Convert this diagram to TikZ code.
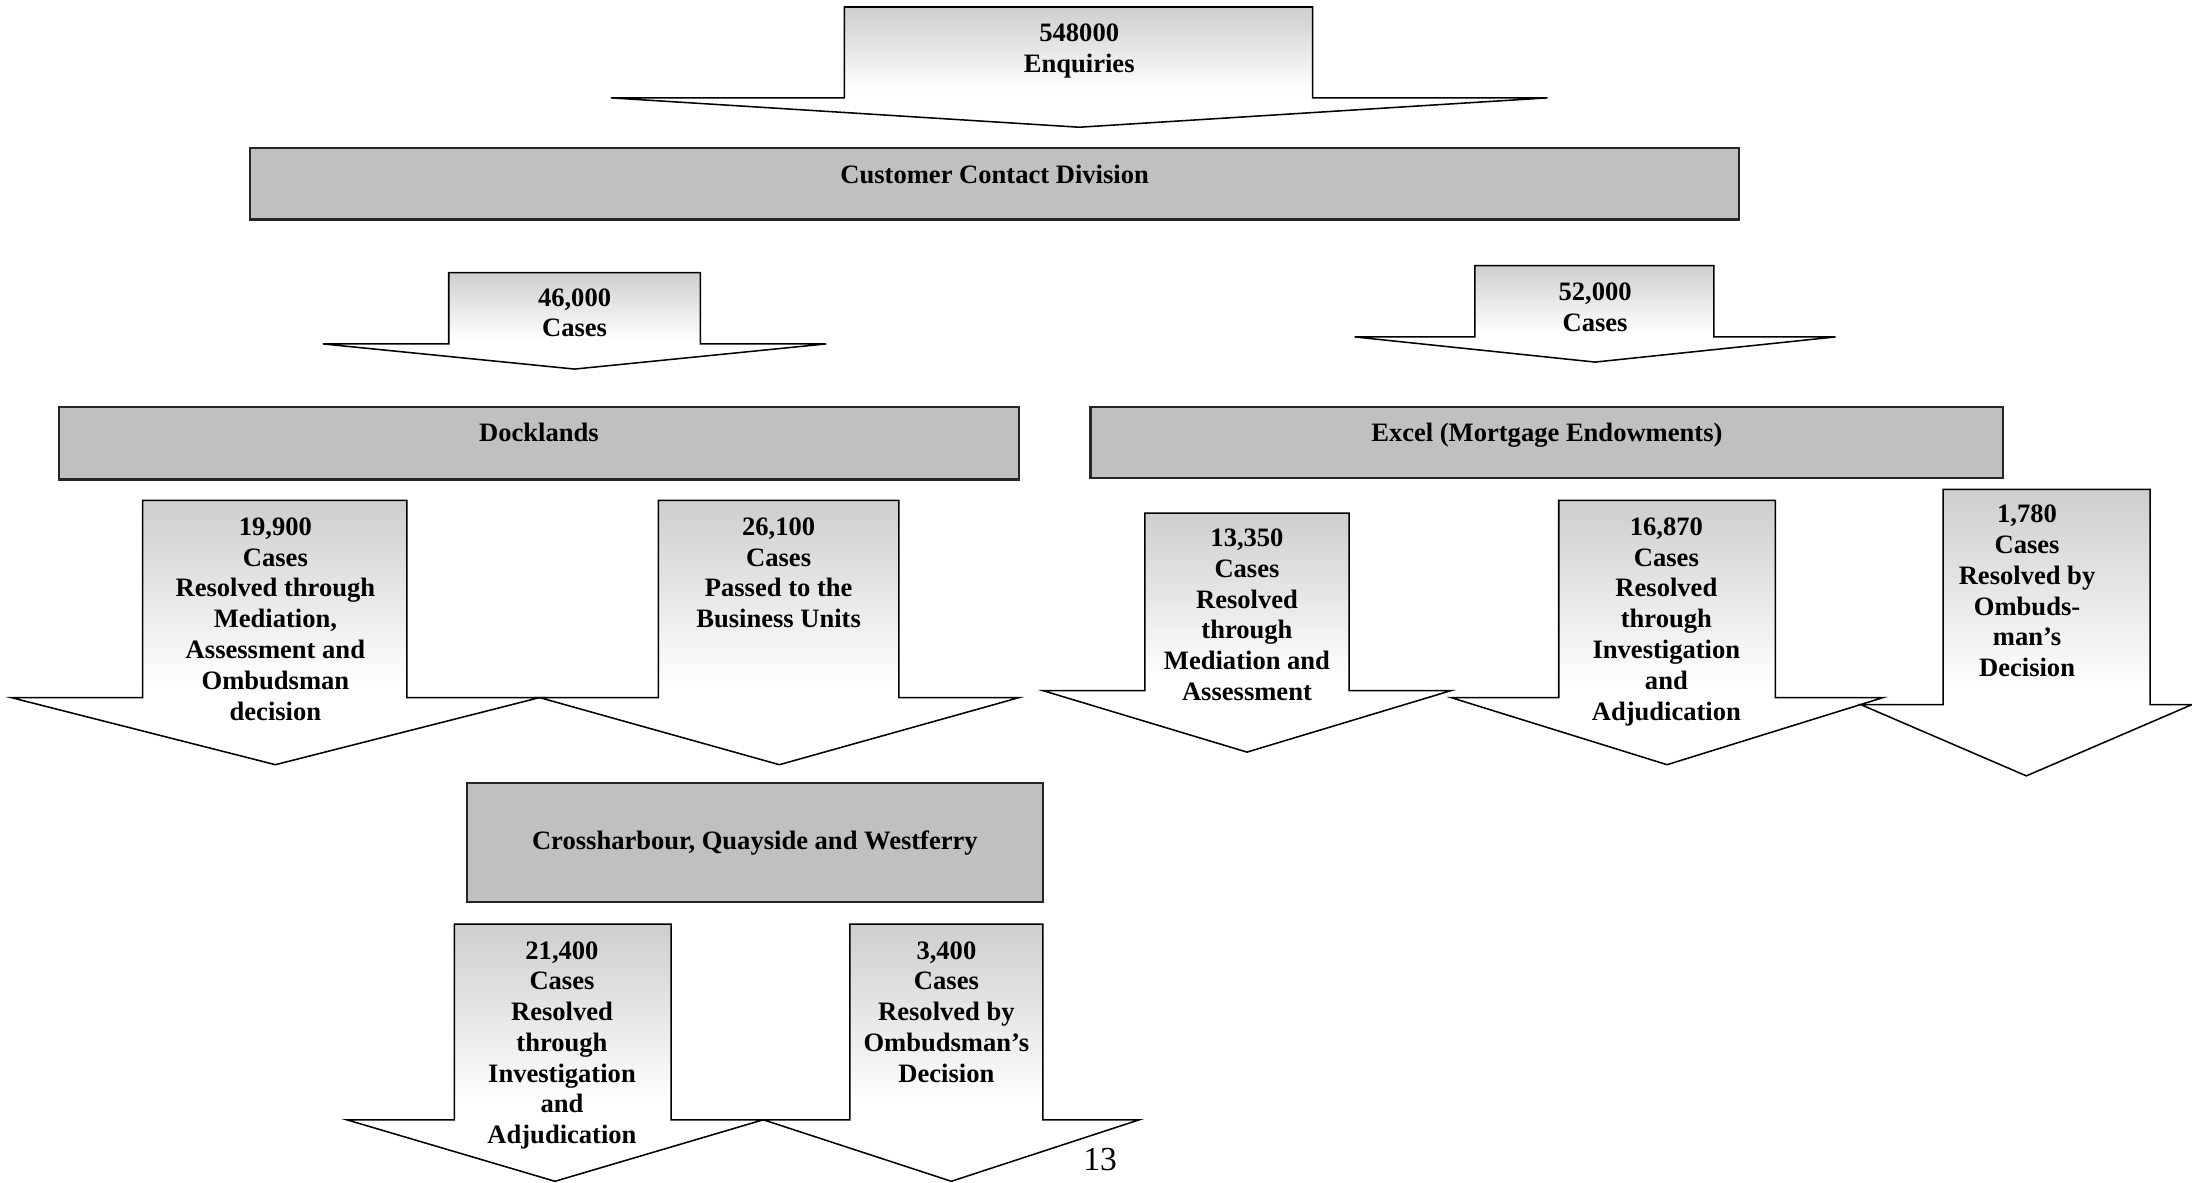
\documentclass[tikz,border=0pt]{standalone}
\usepackage{fontspec}
\setmainfont{Liberation Serif}
\definecolor{fadegray}{RGB}{206,206,206}
\definecolor{boxgray}{RGB}{192,192,192}
\pgfdeclareverticalshading{arrowfade}{100bp}{color(0bp)=(white); color(40bp)=(white); color(75bp)=(fadegray); color(100bp)=(fadegray)}
\begin{document}
\begin{tikzpicture}[x=0.5pt,y=-0.5pt,
  arrowshape/.style={draw=black, line width=0.55pt, line join=miter, shading=arrowfade},
  boxshape/.style={draw=black!85, line width=0.8pt, fill=boxgray},
  lbl/.style={align=center, inner sep=0pt, font=\bfseries\fontsize{9.5}{11}\selectfont},
  multilbl/.style={lbl, anchor=north},
  onelbl/.style={lbl, anchor=base}]
\useasboundingbox (0,0) rectangle (1568,846);
% shaft left, shaft right, top, shoulder, head left, head right, tip y
\newcommand{\downarrowpath}[7]{\path[shade, arrowshape] (#1,#3) -- (#2,#3) -- (#2,#4) -- (#6,#4) -- ({(#5+#6)/2},#7) -- (#5,#4) -- (#1,#4) -- cycle;}

% top arrow
\downarrowpath{604}{939}{5}{70}{437}{1107}{91}
\node[multilbl] (enq) at (772,17) {548000\\Enquiries};

% Customer contact division
\path[boxshape] (179,106) rectangle (1244,157);
\node[onelbl] (ccd) at (711.5,131) {Customer Contact Division};

% 46,000 and 52,000
\downarrowpath{321}{501}{195}{246}{231}{591}{264}
\node[multilbl] (c46) at (411,206) {46,000\\Cases};
\downarrowpath{1055}{1226}{190}{241}{969}{1313}{259}
\node[multilbl] (c52) at (1141,202) {52,000\\Cases};

% Docklands and Excel
\path[boxshape] (42,291) rectangle (729,343);
\node[onelbl] (dock) at (385.5,316) {Docklands};
\path[boxshape] (780,291) rectangle (1433,342);
\node[onelbl] (excel) at (1106.5,316) {Excel (Mortgage Endowments)};

% Docklands outputs
\downarrowpath{102}{291}{358}{499}{8}{386}{547}
\node[multilbl] (c199) at (197,370) {19,900\\Cases\\Resolved through\\Mediation,\\Assessment and\\Ombudsman\\decision};
\downarrowpath{471}{643}{358}{499}{386}{729}{547}
\node[multilbl] (c261) at (557,370) {26,100\\Cases\\Passed to the\\Business Units};

% Excel outputs
\downarrowpath{819}{965}{367}{494}{746}{1038}{538}
\node[multilbl] (c1335) at (892,378) {13,350\\Cases\\Resolved\\through\\Mediation and\\Assessment};
\downarrowpath{1115}{1270}{358}{499}{1038}{1347}{547}
\node[multilbl] (c1687) at (1192,370) {16,870\\Cases\\Resolved\\through\\Investigation\\and\\Adjudication};
\downarrowpath{1390}{1538}{350}{504}{1331}{1568}{555}
\node[multilbl] (c178) at (1450,361) {1,780\\Cases\\Resolved by\\Ombuds-\\man’s\\Decision};

% Crossharbour
\path[boxshape] (334,560) rectangle (746,645);
\node[onelbl] (cross) at (540,608) {Crossharbour, Quayside and Westferry};

\downarrowpath{325}{480}{661}{801}{248}{546}{845}
\node[multilbl] (c214) at (402,673) {21,400\\Cases\\Resolved\\through\\Investigation\\and\\Adjudication};
\downarrowpath{608}{746}{661}{801}{546}{815}{845}
\node[multilbl] (c34) at (677,673) {3,400\\Cases\\Resolved by\\Ombudsman’s\\Decision};

% page number
\node[anchor=base, inner sep=0pt, font=\fontsize{12}{14}\selectfont] (pg) at (787,837) {13};
\end{tikzpicture}
\end{document}
